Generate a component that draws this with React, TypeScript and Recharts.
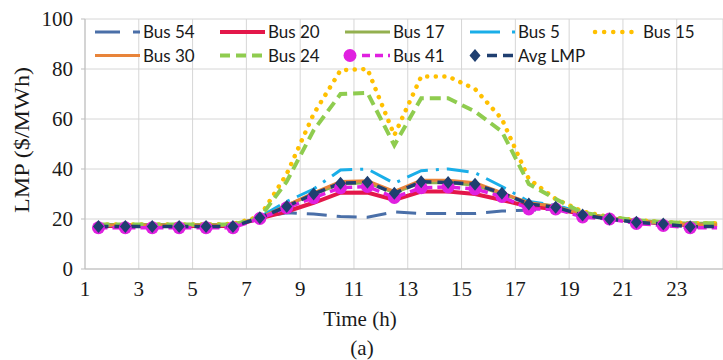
import React from "react";
import { LineChart, Line, XAxis, YAxis, CartesianGrid, Label } from "recharts";

// hours of the day, plotted at the middle of each hour
const hours = [1, 2, 3, 4, 5, 6, 7, 8, 9, 10, 11, 12, 13, 14, 15, 16, 17, 18, 19, 20, 21, 22, 23, 24];
const xTicks = [1, 3, 5, 7, 9, 11, 13, 15, 17, 19, 21, 23];
const yTicks = [0, 20, 40, 60, 80, 100];

const bus54 = [17.3, 17.3, 17.3, 17.3, 17.3, 17.3, 20.5, 22.5, 22, 21, 20.7, 22.8, 22.2, 22.2, 22.2, 23.2, 23.5, 24, 22, 20.3, 19, 18.3, 17.5, 17.5];
const bus20 = [17.2, 17.2, 17.2, 17.2, 17.2, 17.2, 20.3, 23, 26.5, 30.5, 30.6, 27.6, 31, 31, 30, 27.6, 25, 24, 22, 20.3, 19, 18.2, 17.5, 17.5];
const bus17 = [17.8, 17.8, 17.8, 17.8, 17.8, 17.8, 20.5, 25.5, 30, 34, 34.5, 30.5, 34.5, 34.5, 33.5, 30, 26.5, 25.2, 22.5, 20.5, 19.5, 18.8, 18.3, 18.3];
const bus5 = [17.4, 17.4, 17.4, 17.4, 17.4, 17.4, 20.8, 27, 32, 39.6, 40, 34.3, 39.3, 40, 38.5, 33, 27, 25.5, 22.5, 20.3, 19, 18.3, 17.6, 17.6];
const bus15 = [17.8, 17.8, 17.8, 17.8, 17.8, 18, 21, 38, 62, 79.5, 80, 53.5, 77, 77, 72, 60, 36, 28, 23, 20.8, 19.5, 18.8, 18.3, 18.3];
const bus30 = [17.5, 17.5, 17.5, 17.5, 17.5, 17.5, 20.5, 25.5, 30.5, 35, 35.3, 31, 35.5, 35.5, 34.5, 30.5, 26.5, 25, 22, 20.3, 19.2, 18.4, 17.7, 17.7];
const bus24 = [17.8, 17.8, 17.8, 17.8, 17.8, 17.8, 20.5, 35, 55.5, 70, 70.5, 49.5, 68.3, 68.3, 63, 55, 34, 28, 22.5, 20.8, 19.5, 18.8, 18.3, 18.3];
const bus41 = [16.5, 16.5, 16.5, 16.5, 16.5, 16.5, 20.2, 24.5, 28.5, 32.5, 33, 28.6, 32.5, 32.8, 32, 29, 24, 24, 20.8, 20, 18.2, 17.4, 16.5, 16.5];
const avgLmp = [17, 17, 17, 17, 17, 17, 20.5, 25, 30, 34.3, 34.7, 30.3, 34.9, 34.6, 33.9, 30.3, 26, 24.7, 21.6, 20, 18.7, 18, 16.9, 17];

interface ISeries {
  key: string
  name: string
  values: number[]
  color: string
  width: number
  dash?: string
  legendDash?: string
  round?: boolean
  marker?: "circle" | "diamond"
}

const series: ISeries[] = [
  { key: "b54", name: "Bus 54", values: bus54, color: "#4a6fa8", width: 3, dash: "20 10", legendDash: "25 13" },
  { key: "b20", name: "Bus 20", values: bus20, color: "#e3174a", width: 4 },
  { key: "b17", name: "Bus 17", values: bus17, color: "#93b04f", width: 3 },
  { key: "b5", name: "Bus 5", values: bus5, color: "#1aaee8", width: 3, dash: "22 8 3 8", legendDash: "30 12 3 20" },
  { key: "b15", name: "Bus 15", values: bus15, color: "#ffc000", width: 4.5, dash: "0.1 8.5", legendDash: "0.1 9", round: true },
  { key: "b30", name: "Bus 30", values: bus30, color: "#e8843a", width: 3 },
  { key: "b24", name: "Bus 24", values: bus24, color: "#8fcc4f", width: 4, dash: "11 6", legendDash: "10 6" },
  { key: "b41", name: "Bus 41", values: bus41, color: "#e020e0", width: 3.5, dash: "9 5", legendDash: "8 5", marker: "circle" },
  { key: "avg", name: "Avg LMP", values: avgLmp, color: "#1f3f70", width: 3.5, dash: "10 6", legendDash: "10 6", marker: "diamond" },
];

const data = hours.map((h, i) => {
  const row: { [key: string]: number } = { t: h + 0.5 };
  for (let s of series) row[s.key] = s.values[i];
  return row;
});

const lastIndex = hours.length - 1;

const makeDot = (s: ISeries) => (p: any) => {
  const { cx, cy, index } = p;
  if (index === lastIndex || cx == null) return <g key={`${s.key}-${index}`} />;
  if (s.marker === "diamond") {
    return (
      <path
        key={`${s.key}-${index}`}
        d={`M${cx},${cy - 6.5} L${cx + 5.5},${cy} L${cx},${cy + 6.5} L${cx - 5.5},${cy} Z`}
        fill={s.color}
      />
    );
  }
  return <circle key={`${s.key}-${index}`} cx={cx} cy={cy} r={6.5} fill={s.color} />;
};

const LegendBox = () => (
  <svg width={723} height={70} style={{ position: "absolute", left: 0, top: 0, pointerEvents: "none" }}>
    {series.map((s, i) => {
      const x0 = 95 + (i % 5) * 125;
      const y = 32 + Math.floor(i / 5) * 23.5;
      const lineStart = s.marker ? x0 + 17 : x0;
      return (
        <g key={s.key}>
          <line
            x1={lineStart}
            x2={x0 + 45}
            y1={y}
            y2={y}
            stroke={s.color}
            strokeWidth={s.width}
            strokeDasharray={s.legendDash}
            strokeLinecap={s.round ? "round" : "butt"}
          />
          {s.marker === "circle" && <circle cx={x0 + 5} cy={y} r={6.5} fill={s.color} />}
          {s.marker === "diamond" && (
            <path d={`M${x0 + 5},${y - 6.5} L${x0 + 10.5},${y} L${x0 + 5},${y + 6.5} L${x0 - 0.5},${y} Z`} fill={s.color} />
          )}
          <text x={x0 + 48} y={y + 6} fontFamily="Lato" fontSize={17} fill="#1a1a1a">
            {s.name}
          </text>
        </g>
      );
    })}
  </svg>
);

const renderYLabel = () => (
  <text
    x={21}
    y={140}
    transform="rotate(-90, 21, 140)"
    textAnchor="middle"
    dominantBaseline="central"
    fontFamily="Liberation Serif"
    fontSize={22}
    fill="#1a1a1a"
    textLength={146}
    lengthAdjust="spacingAndGlyphs"
  >
    LMP ($/MWh)
  </text>
);

const renderXLabel = () => (
  <g fontFamily="Liberation Serif" fill="#1a1a1a">
    <text x={360} y={326} textAnchor="middle" fontSize={21}>
      Time (h)
    </text>
    <text x={362} y={355} textAnchor="middle" fontSize={21}>
      (a)
    </text>
  </g>
);

const App = () => {
  return (
    <div style={{ position: "absolute", left: 0, top: 0, width: 723, height: 360, background: "#fff" }}>
      <LineChart width={723} height={360} data={data} margin={{ top: 19, right: 0, bottom: 0, left: 0 }}>
        <CartesianGrid stroke="#d6d6d6" strokeWidth={1} />
        <XAxis
          dataKey="t"
          type="number"
          domain={[1, 24.72]}
          ticks={xTicks}
          height={91}
          tickSize={0}
          tickMargin={12}
          axisLine={{ stroke: "#bdbdbd" }}
          tick={{ fontFamily: "Liberation Serif", fontSize: 21, fill: "#1a1a1a" }}
          allowDataOverflow
        >
          <Label content={renderXLabel} />
        </XAxis>
        <YAxis
          type="number"
          domain={[0, 100]}
          ticks={yTicks}
          width={85}
          tickSize={4}
          tickMargin={8}
          axisLine={{ stroke: "#bdbdbd" }}
          tickLine={{ stroke: "#bdbdbd" }}
          tick={{ fontFamily: "Liberation Serif", fontSize: 21, fill: "#1a1a1a" }}
        >
          <Label content={renderYLabel} />
        </YAxis>
        {series.map((s) => (
          <Line
            key={s.key}
            dataKey={s.key}
            name={s.name}
            type="linear"
            stroke={s.color}
            strokeWidth={s.width}
            strokeDasharray={s.dash}
            strokeLinecap={s.round ? "round" : "butt"}
            dot={s.marker ? makeDot(s) : false}
            activeDot={false}
            isAnimationActive={false}
          />
        ))}
      </LineChart>
      <LegendBox />
    </div>
  );
};

export default App;
